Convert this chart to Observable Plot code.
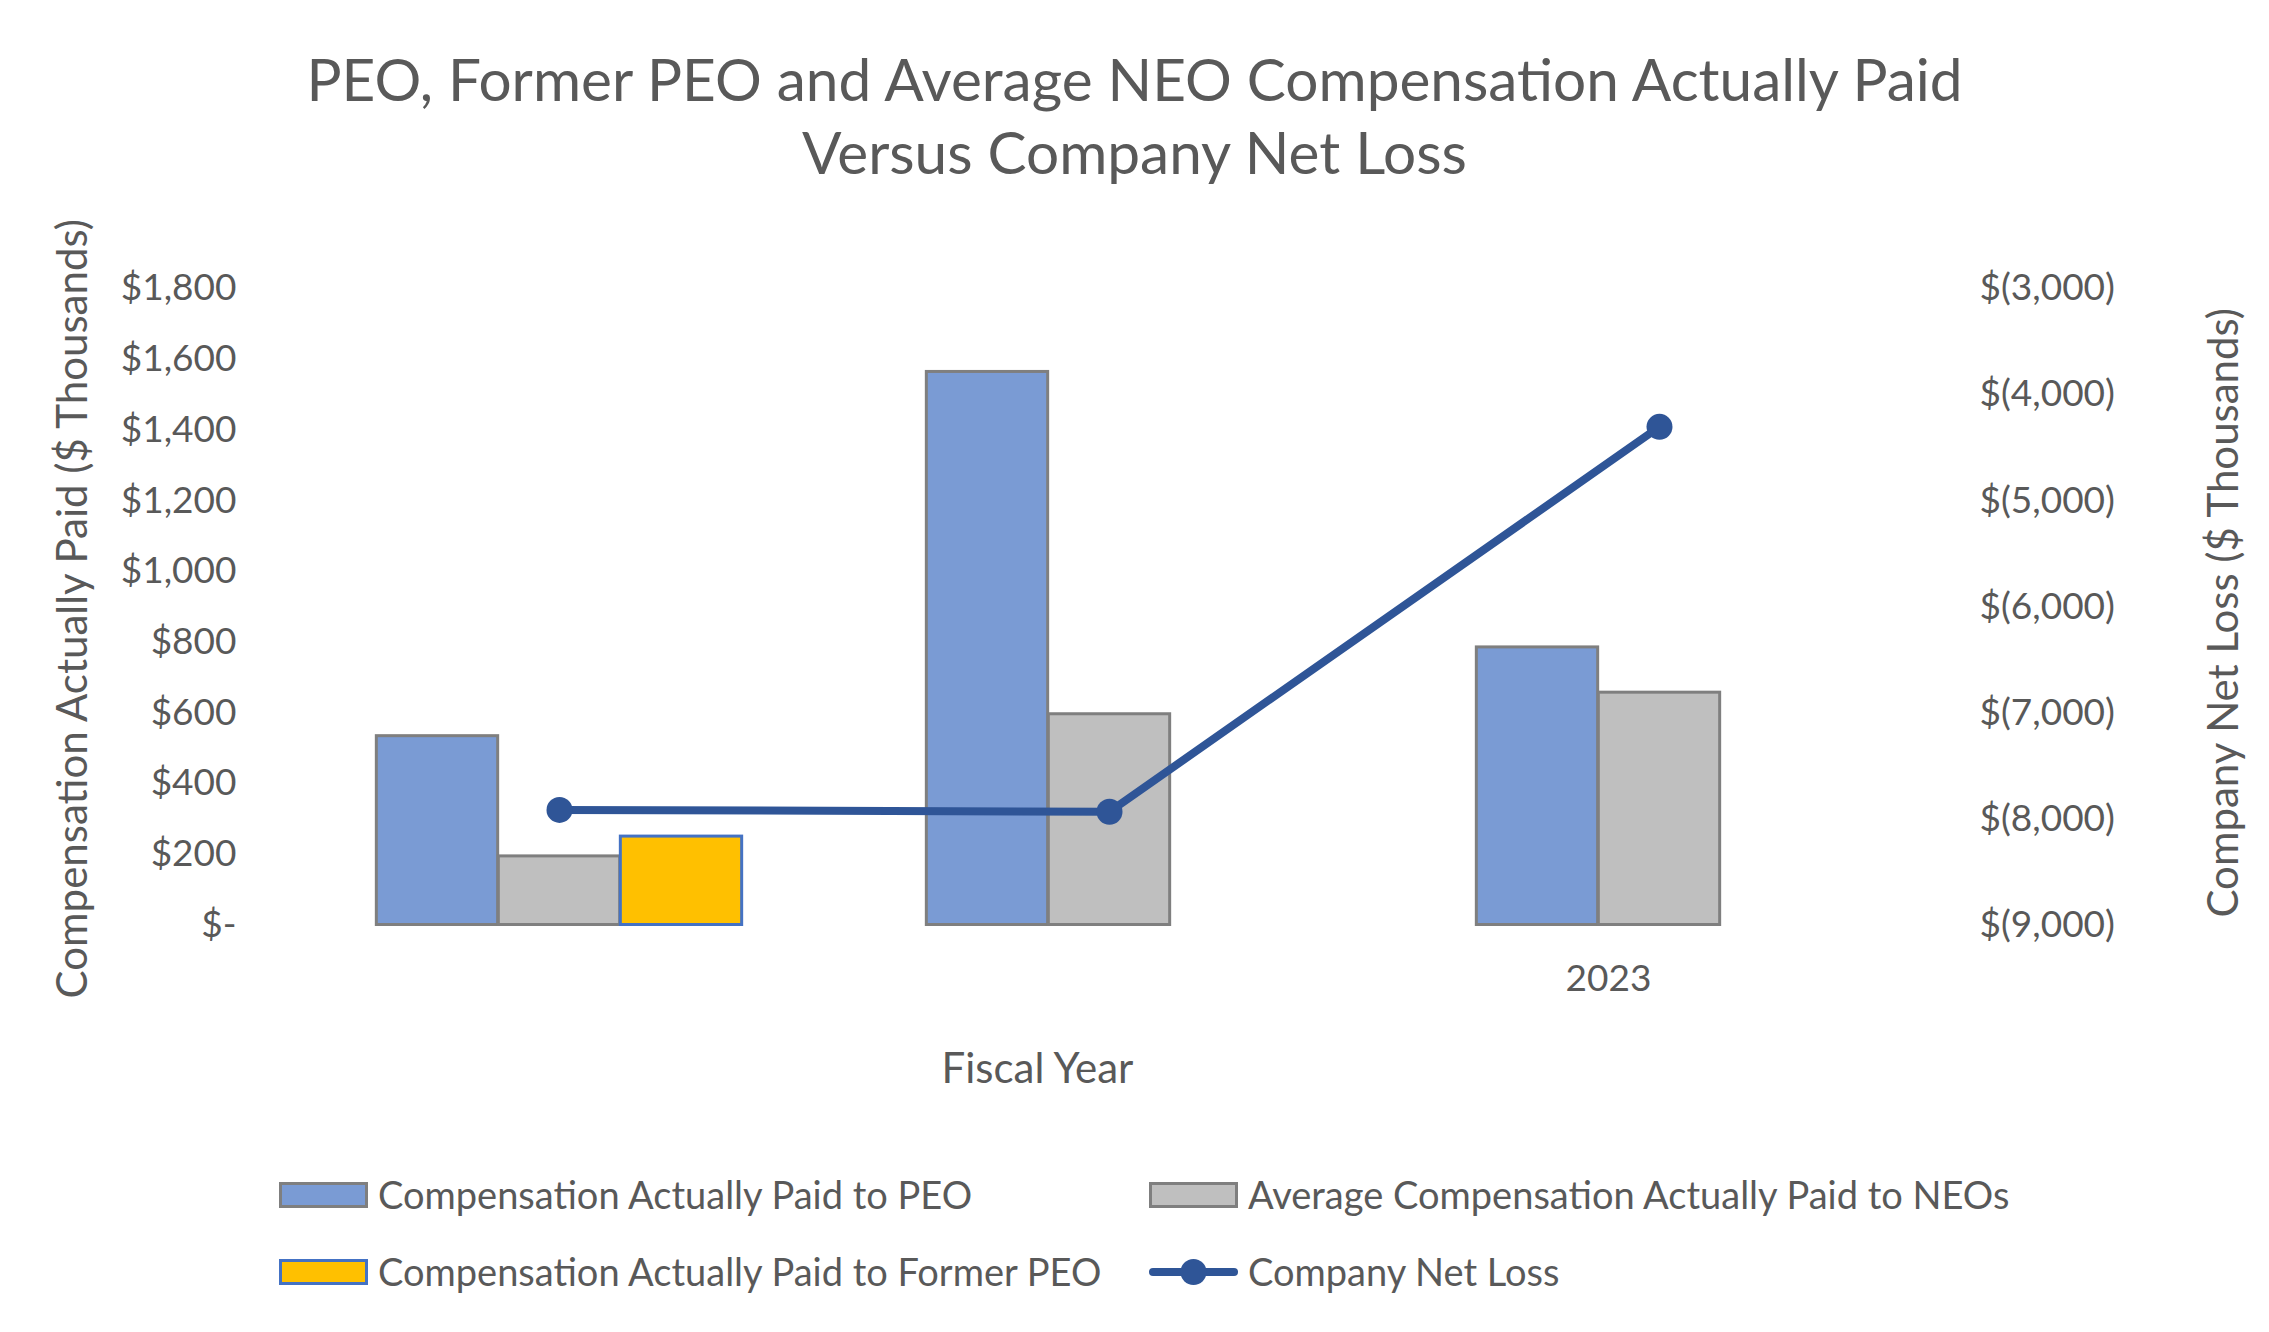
<!DOCTYPE html>
<html>
<head>
<meta charset="utf-8">
<script src="https://cdn.jsdelivr.net/npm/d3@7"></script>
<script src="https://cdn.jsdelivr.net/npm/@observablehq/plot@0.6"></script>
<style>
  html, body { margin: 0; padding: 0; background: #ffffff; }
  #wrap { position: relative; width: 2269px; height: 1332px; overflow: hidden; font-family: Lato, "Open Sans", sans-serif; color: #595959; }
  #title { position: absolute; left: 0; top: 0; width: 2269px; text-align: center; font-size: 58.5px; line-height: 73px; padding-top: 42px; }
  #chart { position: absolute; left: 0; top: 200px; }
  .lg { position: absolute; font-size: 38px; white-space: nowrap; line-height: 1; }
  .sw { position: absolute; box-sizing: border-box; }
</style>
</head>
<body>
<div id="wrap">
  <div id="title">PEO, Former PEO and Average NEO Compensation Actually Paid<br>Versus Company Net Loss</div>
  <div id="chart"></div>
  <div id="legend"></div>
</div>
<script>
// ---- data (values in $ thousands) ----
const years = ["2021", "2022", "2023"];
const yearLabels = ["", "", "2023"];
const peoCap = [534, 1564, 785];
const neoAvgCap = [194, 596, 657];
const formerPeoCap = [250, null, null];
const netLoss = [-7915, -7932, -4304];
const leftTicks = [0, 200, 400, 600, 800, 1000, 1200, 1400, 1600, 1800];
const rightTicks = [-3000, -4000, -5000, -6000, -7000, -8000, -9000];
const seriesNames = [
  "Compensation Actually Paid to PEO",
  "Average Compensation Actually Paid to NEOs",
  "Compensation Actually Paid to Former PEO",
  "Company Net Loss"
];
const leftTitle = "Compensation Actually Paid ($ Thousands)";
const rightTitle = "Company Net Loss ($ Thousands)";
const xTitle = "Fiscal Year";

// ---- colours ----
const cPeo = "#7A9BD4", cNeo = "#BFBFBF", cFormer = "#FFC000", cLine = "#2F5597";
const cBarStroke = "#7F7F7F", cFormerStroke = "#4472C4", cText = "#595959";

// ---- table ----
const rows = years.map((y, i) => ({
  year: y, peo: peoCap[i], neo: neoAvgCap[i], former: formerPeoCap[i], loss: netLoss[i]
}));

// dual axis mapping: right domain [-9000,-3000] onto left domain [0,1800]
const L0 = -9000, L1 = -3000, Y1 = 1800;
const toLeft = v => (v - L0) / (L1 - L0) * Y1;
const fromLeft = v => v / Y1 * (L1 - L0) + L0;

const fmtLeft = d => d === 0 ? "$-" : "$" + d3.format(",")(d);
const fmtRight = v => "$(" + d3.format(",")(Math.abs(Math.round(v))) + ")";

// ---- layout ----
const W = 2269, H = 900;
const ML = 283, MR = W - 1935, MT = 88, MB = H - 724.5;
const B = (W - ML - MR) / years.length;
const BW = 122;
function slot(i) {
  const l = B / 2 + (i - 1.5) * BW;
  return { insetLeft: l, insetRight: B - l - BW };
}
const FS = 37, FT = 42;

const chart = Plot.plot({
  width: W, height: H,
  marginLeft: ML, marginRight: MR, marginTop: MT, marginBottom: MB,
  style: { fontFamily: "Lato, 'Open Sans', sans-serif", color: cText, fontSize: FS + "px", background: "transparent" },
  x: { type: "band", domain: years, padding: 0, axis: null },
  y: { domain: [0, Y1], axis: null },
  marks: [
    Plot.barY(rows, { x: "year", y: "peo", fill: cPeo, stroke: cBarStroke, strokeWidth: 3, ...slot(0) }),
    Plot.barY(rows, { x: "year", y: "neo", fill: cNeo, stroke: cBarStroke, strokeWidth: 3, ...slot(1) }),
    Plot.barY(rows.filter(d => d.former != null), { x: "year", y: "former", fill: cFormer, stroke: cFormerStroke, strokeWidth: 3, ...slot(2) }),
    Plot.line(rows, { x: "year", y: d => toLeft(d.loss), stroke: cLine, strokeWidth: 8 }),
    Plot.dot(rows, { x: "year", y: d => toLeft(d.loss), r: 13, fill: cLine, stroke: "none" }),
    Plot.axisY(leftTicks, { anchor: "left", tickSize: 0, tickPadding: 47, tickFormat: fmtLeft, label: null, fontSize: FS, fill: cText }),
    Plot.axisY(rightTicks.map(toLeft), { anchor: "right", tickSize: 0, tickPadding: 44, tickFormat: v => fmtRight(fromLeft(v)), label: null, fontSize: FS, fill: cText, textAnchor: "start" }),
    Plot.axisX(years, { anchor: "bottom", tickSize: 0, tickPadding: 40, tickFormat: d => yearLabels[years.indexOf(d)], label: null, dx: -51, fontSize: FS, fill: cText }),
    Plot.text([leftTitle], { text: d => d, frameAnchor: "left", textAnchor: "middle", lineAnchor: "middle", dx: 73 - ML, dy: 2, rotate: -90, fontSize: FT, fill: cText }),
    Plot.text([rightTitle], { text: d => d, frameAnchor: "right", textAnchor: "middle", lineAnchor: "middle", dx: 289, dy: 6, rotate: -90, fontSize: FT, fill: cText }),
    Plot.text([xTitle], { text: d => d, frameAnchor: "bottom", textAnchor: "middle", lineAnchor: "middle", dx: -72, dy: 145, fontSize: FT, fill: cText })
  ]
});
document.getElementById("chart").appendChild(chart);

// ---- legend ----
const legend = document.getElementById("legend");
const items = [
  { name: seriesNames[0], kind: "box", fill: cPeo, stroke: cBarStroke, x: 279, y: 1195 },
  { name: seriesNames[1], kind: "box", fill: cNeo, stroke: cBarStroke, x: 1149, y: 1195 },
  { name: seriesNames[2], kind: "box", fill: cFormer, stroke: cFormerStroke, x: 279, y: 1272 },
  { name: seriesNames[3], kind: "line", fill: cLine, stroke: cLine, x: 1149, y: 1272 }
];
for (const it of items) {
  const sw = document.createElement("div");
  sw.className = "sw";
  if (it.kind === "box") {
    Object.assign(sw.style, { left: it.x + "px", top: (it.y - 13) + "px", width: "89px", height: "26px", background: it.fill, border: "3px solid " + it.stroke });
  } else {
    Object.assign(sw.style, { left: it.x + "px", top: (it.y - 15) + "px", width: "89px", height: "30px" });
    sw.innerHTML = `<svg width="89" height="30"><line x1="4" y1="15" x2="85" y2="15" stroke="${it.stroke}" stroke-width="8" stroke-linecap="round"/><circle cx="44.5" cy="15" r="13" fill="${it.fill}"/></svg>`;
  }
  legend.appendChild(sw);
  const t = document.createElement("div");
  t.className = "lg";
  t.textContent = it.name;
  Object.assign(t.style, { left: (it.x + 99) + "px", top: (it.y - 20) + "px" });
  legend.appendChild(t);
}
</script>
</body>
</html>
